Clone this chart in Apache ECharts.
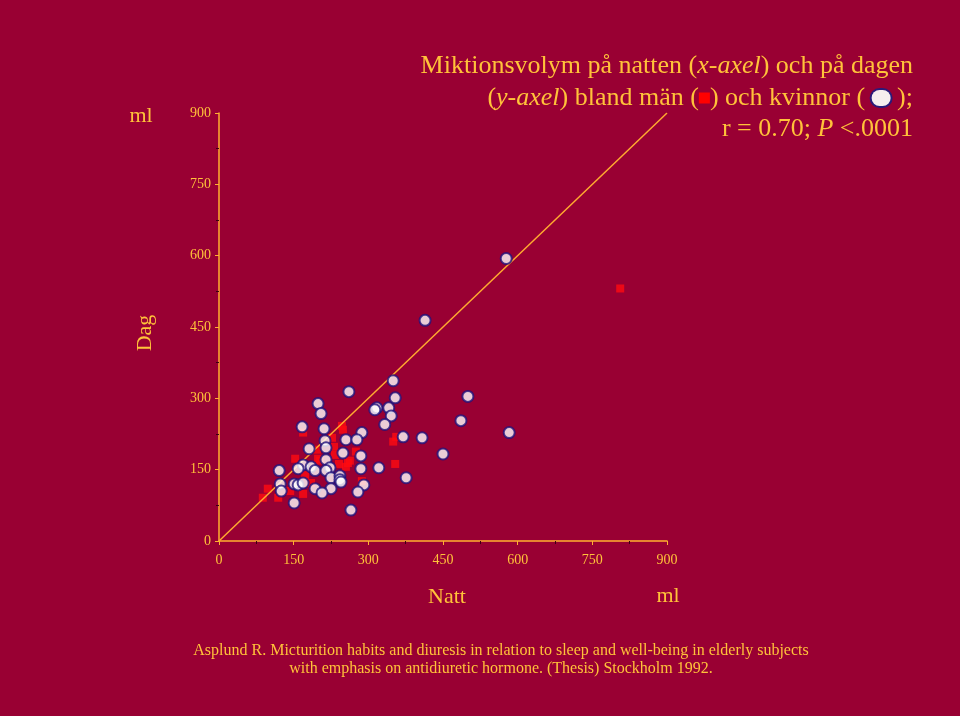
<!DOCTYPE html>
<html>
<head>
<meta charset="utf-8">
<script src="https://cdn.jsdelivr.net/npm/echarts@6/dist/echarts.min.js"></script>
<style>html,body{margin:0;padding:0;background:#990033;}#c{width:960px;height:716px;}</style>
</head>
<body>
<div id="c"></div>
<script>
// Axis ticks
const axisTicks = [0, 150, 300, 450, 600, 750, 900];
// Women (circles): night volume (x), day volume (y)
const womenNight = [350,261,199,354,205,317,313,341,346,333,167,211,287,370,408,255,277,213,215,181,249,285,215,169,185,223,159,193,215,285,321,121,225,243,243,245,376,123,151,159,169,291,125,193,225,207,279,151,265,577,414,500,486,583,450];
const womenDay   = [337,314,289,301,268,280,276,280,263,245,240,236,228,219,217,213,213,211,196,194,185,179,171,160,156,154,152,148,148,152,154,148,133,137,129,124,133,120,120,118,122,118,105,110,110,101,103,80,65,594,464,304,253,228,183];
// Men (squares): night volume (x), day volume (y)
const menNight = [169,247,249,227,231,356,350,197,153,199,233,263,255,241,275,354,173,143,98,88,119,169,185,287,806,259,203];
const menDay   = [228,242,234,217,198,219,209,192,173,173,181,169,156,162,188,162,139,105,110,91,91,99,122,126,531,164,169];
// Identity line
const refLine = [[0, 0], [900, 900]];

const TXT = '#ffc23a';
const AX = '#ffb030';
const FONT = '"Liberation Serif", "Times New Roman", serif';
const TF = 26;
const richT = {
  i: { fontFamily: FONT, fontSize: TF, fontStyle: 'italic', fill: TXT },
  sq: { width: 11, height: 11, backgroundColor: '#ff0000' },
  ci: { width: 19, height: 16, backgroundColor: '#f6eeee', borderColor: '#2a1a7a', borderWidth: 2, borderRadius: 9 }
};
function titleLine(text, y) {
  return { type: 'text', x: 913, y: y, z: 10, style: { text: text, fill: TXT, font: TF + 'px ' + FONT, textAlign: 'right', textVerticalAlign: 'middle', rich: richT } };
}

const chart = echarts.init(document.getElementById('c'));
chart.setOption({
  backgroundColor: '#990033',
  animation: false,
  textStyle: { fontFamily: FONT },
  grid: { left: 219, right: 293, top: 113, bottom: 175, containLabel: false },
  xAxis: {
    type: 'value', min: 0, max: 900, interval: 150,
    axisLine: { lineStyle: { color: AX, width: 1.5 } },
    axisTick: { show: true, inside: false, length: 4, lineStyle: { color: AX } },
    minorTick: { show: true, splitNumber: 2, length: 3, lineStyle: { color: '#3a0010' } },
    axisLabel: { color: TXT, fontFamily: FONT, fontSize: 14, margin: 12, formatter: v => axisTicks.includes(v) ? String(v) : '' },
    splitLine: { show: false }
  },
  yAxis: {
    type: 'value', min: 0, max: 900, interval: 150,
    axisLine: { show: true, lineStyle: { color: AX, width: 1.5 } },
    axisTick: { show: true, inside: false, length: 4, lineStyle: { color: AX } },
    minorTick: { show: true, splitNumber: 2, length: 3, lineStyle: { color: '#3a0010' } },
    axisLabel: { color: TXT, fontFamily: FONT, fontSize: 14, margin: 8, formatter: v => axisTicks.includes(v) ? String(v) : '' },
    splitLine: { show: false }
  },
  graphic: [
    titleLine('Miktionsvolym på natten ({i|x-axel}) och på dagen', 66),
    titleLine('({i|y-axel}) bland män ({sq|}) och kvinnor ( {ci|} );', 98),
    titleLine('r = 0.70; {i|P} <.0001', 129),
    { type: 'text', x: 141, y: 116, style: { text: 'ml', fill: TXT, font: '22px ' + FONT, textAlign: 'center', textVerticalAlign: 'middle' } },
    { type: 'text', x: 145, y: 333, rotation: Math.PI / 2, style: { text: 'Dag', fill: TXT, font: '22px ' + FONT, textAlign: 'center', textVerticalAlign: 'middle' } },
    { type: 'text', x: 447, y: 597, style: { text: 'Natt', fill: TXT, font: '22px ' + FONT, textAlign: 'center', textVerticalAlign: 'middle' } },
    { type: 'text', x: 668, y: 596, style: { text: 'ml', fill: TXT, font: '22px ' + FONT, textAlign: 'center', textVerticalAlign: 'middle' } },
    { type: 'text', x: 501, y: 651, style: { text: 'Asplund R. Micturition habits and diuresis in relation to sleep and well-being in elderly subjects', fill: TXT, font: '16px ' + FONT, textAlign: 'center', textVerticalAlign: 'middle' } },
    { type: 'text', x: 501, y: 669, style: { text: 'with emphasis on antidiuretic hormone. (Thesis) Stockholm 1992.', fill: TXT, font: '16px ' + FONT, textAlign: 'center', textVerticalAlign: 'middle' } }
  ],
  series: [
    {
      name: 'män', type: 'scatter', symbol: 'rect', symbolSize: 8, z: 2,
      itemStyle: { color: '#ff0a10' },
      data: menNight.map((x, i) => [x, menDay[i]])
    },
    {
      name: 'linje', type: 'line', data: refLine, showSymbol: false, symbol: 'none', z: 3,
      lineStyle: { color: '#ffaa30', width: 1.5 }
    },
    {
      name: 'kvinnor', type: 'scatter', symbol: 'circle', symbolSize: 11, z: 4,
      itemStyle: { color: '#ffffff', borderColor: '#20127a', borderWidth: 2 },
      data: womenNight.map((x, i) => [x, womenDay[i]])
    }
  ]
});
</script>
</body>
</html>
